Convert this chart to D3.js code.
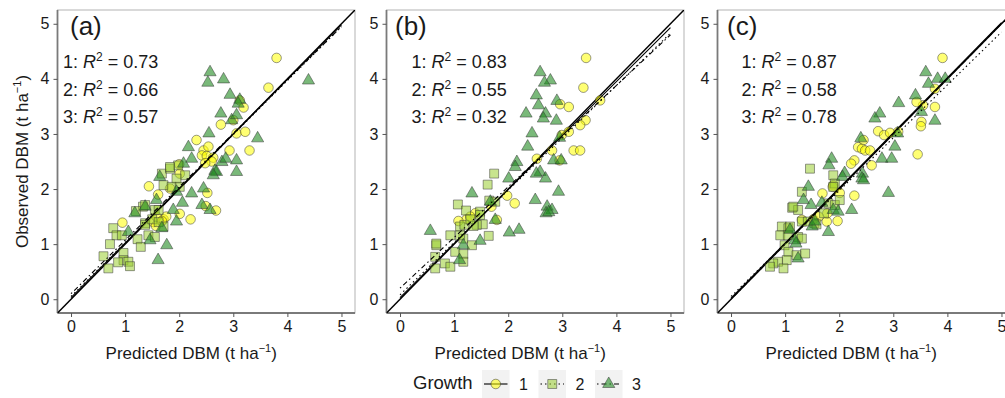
<!DOCTYPE html>
<html>
<head>
<meta charset="utf-8">
<script src="https://cdn.jsdelivr.net/npm/d3@7"></script>
<style>
  body { margin: 0; background: #fff; }
  text { font-family: "Liberation Sans", Arial, sans-serif; fill: #1a1a1a; }
</style>
</head>
<body>
<div id="chart"></div>
<script>
var svgWidth = 1005;
var svgHeight = 398;

// Data
// ==============================
var ticks = [0, 1, 2, 3, 4, 5];
var panelLabels = ["(a)", "(b)", "(c)"];
var growth = ["1", "2", "3"];
var r2 = [[0.73, 0.66, 0.57], [0.83, 0.55, 0.32], [0.87, 0.58, 0.78]];
// regression fits per panel and growth: [intercept, slope]
var fits = [
  [[0.03, 0.99], [0.05, 0.98], [0.10, 0.97]],
  [[0.03, 0.98], [0.08, 0.95], [0.20, 0.92]],
  [[0.02, 1.00], [0.05, 0.96], [0.00, 1.00]]
];

// [predicted, observed]
var a1 = [[3.80,4.38],[3.65,3.84],[3.12,3.61],[3.19,3.48],[3.00,3.25],[2.77,3.17],[3.06,3.01],[3.22,3.04],[2.93,2.70],[3.30,2.70],
  [2.32,2.89],[2.45,2.70],[2.54,2.77],[2.42,2.61],[2.51,2.60],[2.63,2.57],[2.60,2.50],[2.48,2.47],[2.01,2.28],[1.44,2.05],
  [1.61,1.90],[1.83,2.01],[2.52,1.93],[2.01,1.55],[2.21,1.45],[2.68,1.61],[2.49,1.69],[0.95,1.39],[1.52,1.40],[1.71,1.45],
  [1.58,1.50],[1.57,1.33],[1.76,1.50],[1.68,1.42],[2.00,2.45]];
var a2 = [[1.68,2.28],[1.83,2.37],[1.98,2.43],[2.11,2.25],[1.95,2.19],[1.71,2.07],[1.86,2.04],[2.01,2.04],[1.33,1.68],[1.37,1.71],
  [1.55,1.62],[1.62,1.62],[1.37,1.38],[1.37,1.35],[1.71,1.32],[0.78,1.29],[0.84,1.16],[0.94,1.16],[0.72,1.00],[1.23,1.09],
  [1.29,0.95],[1.43,1.16],[1.55,1.13],[0.60,0.78],[0.69,0.56],[0.97,0.84],[0.97,0.71],[0.87,0.67],[1.06,0.68],[1.09,0.60],
  [1.83,2.40],[1.50,1.45],[1.62,1.40],[1.20,1.60]];
var a3 = [[2.57,4.12],[2.53,3.93],[2.82,3.99],[4.39,3.97],[2.94,3.71],[2.77,3.37],[3.12,3.62],[3.09,3.55],[2.97,3.25],[3.06,3.34],
  [2.55,3.01],[3.45,2.92],[2.17,2.76],[2.23,2.55],[2.08,2.46],[2.79,2.49],[3.06,2.52],[2.86,2.55],[2.66,2.33],[3.06,2.31],
  [2.69,2.31],[2.63,2.25],[2.23,1.92],[2.45,2.01],[2.42,1.71],[2.57,1.62],[1.95,1.41],[1.89,1.62],[1.64,2.22],[1.18,1.56],
  [1.37,1.68],[1.58,1.80],[1.68,1.29],[1.46,1.07],[1.77,0.98],[1.61,0.71],[1.06,1.22],[2.06,1.75],[1.95,1.95]];

var b1 = [[3.44,4.38],[3.39,3.84],[3.70,3.61],[2.96,3.54],[3.12,3.49],[3.43,3.25],[3.33,3.16],[3.12,3.04],[2.99,2.98],[2.81,2.70],
  [3.21,2.70],[3.33,2.70],[2.53,2.55],[2.95,2.52],[1.98,1.88],[2.12,1.74],[1.39,1.56],[1.23,1.45],[1.08,1.42],[1.79,1.44],
  [1.69,1.68],[1.30,1.50]];
var b2 = [[1.74,2.28],[1.62,2.08],[1.07,1.72],[1.22,1.61],[1.48,1.59],[1.65,1.79],[1.76,1.77],[1.53,1.36],[1.42,1.35],[1.11,1.32],
  [1.19,1.35],[0.93,1.16],[1.17,1.10],[1.64,1.15],[1.33,0.98],[0.67,0.98],[0.65,0.77],[1.02,0.86],[1.17,0.82],[0.83,0.65],
  [0.93,0.59],[0.65,0.56],[1.17,0.68],[1.36,1.33],[1.48,1.53],[0.67,1.01],[1.11,1.16],[1.30,1.45]];
var b3 = [[2.59,4.12],[2.78,3.97],[2.67,3.93],[2.52,3.70],[2.90,3.60],[2.56,3.52],[2.33,3.37],[2.69,3.37],[2.65,3.28],[2.89,3.24],
  [2.44,3.01],[2.36,2.77],[2.95,2.93],[2.84,2.52],[2.98,2.52],[2.16,2.49],[2.13,2.40],[2.59,2.31],[2.52,2.28],[2.69,2.19],
  [2.01,2.19],[2.93,1.95],[1.33,1.92],[2.50,1.80],[2.72,1.68],[2.81,1.62],[2.70,1.56],[2.75,1.58],[2.02,1.21],[2.20,1.26],
  [1.67,1.77],[1.76,1.44],[0.56,1.24],[1.48,1.06],[1.17,0.98],[1.10,0.71]];

var c1 = [[3.91,4.38],[3.77,3.82],[3.55,3.52],[3.43,3.58],[3.77,3.49],[3.52,3.22],[3.51,3.14],[3.09,3.04],[2.72,3.05],[2.83,2.98],
  [2.94,3.02],[3.45,2.63],[2.45,2.89],[2.35,2.76],[2.42,2.73],[2.48,2.70],[2.57,2.70],[2.28,2.52],[2.22,2.46],[2.60,2.43],
  [1.69,1.92],[2.28,1.88],[2.01,1.93],[1.97,1.42],[1.77,1.41],[1.52,1.45],[1.78,1.56],[1.89,2.07],[1.31,1.44],[1.88,2.04],
  [1.62,1.50]];
var c2 = [[1.46,2.37],[1.89,2.25],[1.92,2.10],[1.89,2.04],[1.31,1.95],[1.13,1.66],[1.24,1.62],[1.80,1.74],[1.92,1.71],[2.01,1.80],
  [1.72,1.56],[1.31,1.41],[1.42,1.41],[1.54,1.38],[0.94,1.32],[1.06,1.29],[0.91,1.16],[1.05,1.16],[1.24,1.13],[1.31,1.10],
  [0.99,0.98],[1.06,0.86],[1.21,0.80],[1.37,0.83],[1.03,0.71],[0.87,0.68],[0.78,0.65],[0.72,0.59],[0.97,0.56],[1.58,1.36],
  [1.15,1.68],[1.09,1.32]];
var c3 = [[3.60,4.12],[3.65,3.91],[3.82,4.00],[3.96,4.00],[3.41,3.70],[3.10,3.56],[3.52,3.40],[3.77,3.24],[2.75,3.37],[2.66,3.28],
  [3.08,3.01],[3.03,2.77],[2.40,2.92],[2.79,2.55],[2.97,2.55],[1.86,2.55],[1.81,2.43],[2.91,1.93],[2.10,2.29],[2.06,2.22],
  [2.43,2.28],[2.42,2.19],[1.43,2.04],[1.34,1.80],[1.48,1.71],[1.68,1.75],[1.89,1.62],[1.98,1.59],[2.23,1.62],[1.80,1.22],
  [1.50,1.32],[1.09,1.26],[1.18,1.07],[1.24,0.74],[2.45,2.16],[1.55,1.41],[1.20,1.01]];

var panelData = [[a1, a2, a3], [b1, b2, b3], [c1, c2, c3]];

// Layout and styles
// ==============================
var panelLeft = [57.5, 386.5, 717.5];
var panelW = 297.5;
var panelTop = 10;
var panelH = 303;
var fills = ["#ffff00", "#9acd32", "#228b22"];
var fillOpacity = [0.55, 0.55, 0.6];
var shapes = [d3.symbolCircle, d3.symbolSquare, d3.symbolTriangle];
var shapeSize = [72, 80, 64];
var dashes = [null, "1.5,3", "1.5,3,5,3"];

var svg = d3.select("#chart")
  .append("svg")
  .attr("width", svgWidth)
  .attr("height", svgHeight);
svg.append("rect")
  .attr("width", "100%")
  .attr("height", "100%")
  .attr("fill", "white");

var yScale = d3.scaleLinear()
  .domain([-0.25, 5.25])
  .range([panelTop + panelH, panelTop]);

function supText(sel, before, sup, after, supSize) {
  sel.append("tspan").text(before);
  sel.append("tspan").attr("dy", -7).attr("font-size", supSize).text(sup);
  sel.append("tspan").attr("dy", 7).text(after);
}

panelData.forEach(function(groups, p) {
  var left = panelLeft[p];
  var xScale = d3.scaleLinear()
    .domain([-0.25, 5.25])
    .range([left, left + panelW]);

  var g = svg.append("g");

  svg.append("clipPath").attr("id", "clip" + p)
    .append("rect")
    .attr("x", left).attr("y", panelTop)
    .attr("width", panelW).attr("height", panelH);

  // panel border
  g.append("rect")
    .attr("x", left).attr("y", panelTop)
    .attr("width", panelW).attr("height", panelH)
    .attr("fill", "none")
    .attr("stroke", "#b3b3b3")
    .attr("stroke-width", 1);

  // axes
  var bottomAxis = d3.axisBottom(xScale).tickValues(ticks).tickFormat(d3.format("d")).tickSize(4).tickPadding(4);
  var leftAxis = d3.axisLeft(yScale).tickValues(ticks).tickFormat(d3.format("d")).tickSize(4).tickPadding(4);

  var xa = g.append("g")
    .attr("transform", `translate(0, ${panelTop + panelH})`)
    .call(bottomAxis);
  var ya = g.append("g")
    .attr("transform", `translate(${left}, 0)`)
    .call(leftAxis);
  [xa, ya].forEach(function(ax) {
    ax.select(".domain").attr("stroke", "#7a7a7a").attr("stroke-width", 1.8);
    ax.selectAll(".tick line").attr("stroke", "#555").attr("stroke-width", 1);
    ax.selectAll(".tick text").attr("font-size", 16).attr("fill", "#1a1a1a")
      .attr("font-family", "Liberation Sans, Arial, sans-serif");
  });
  xa.select(".domain").attr("d", `M${left},0H${left + panelW}`);
  ya.select(".domain").attr("d", `M0,${panelTop}V${panelTop + panelH}`);

  var plot = g.append("g").attr("clip-path", `url(#clip${p})`);

  // 1:1 line
  plot.append("line")
    .attr("x1", xScale(-0.25)).attr("y1", yScale(-0.25))
    .attr("x2", xScale(5.25)).attr("y2", yScale(5.25))
    .attr("stroke", "black")
    .attr("stroke-width", 1.5);

  // points
  groups.forEach(function(pts, k) {
    plot.selectAll(null)
      .data(pts)
      .enter()
      .append("path")
      .attr("d", d3.symbol().type(shapes[k]).size(shapeSize[k]))
      .attr("transform", d => `translate(${xScale(d[0])}, ${yScale(d[1])})`)
      .attr("fill", fills[k])
      .attr("fill-opacity", fillOpacity[k])
      .attr("stroke", "#333")
      .attr("stroke-opacity", 0.55)
      .attr("stroke-width", 0.9);
  });

  // regression lines
  fits[p].forEach(function(f, k) {
    plot.append("line")
      .attr("x1", xScale(0)).attr("y1", yScale(f[0]))
      .attr("x2", xScale(5)).attr("y2", yScale(f[0] + 5 * f[1]))
      .attr("stroke", "black")
      .attr("stroke-width", 1.1)
      .attr("stroke-dasharray", dashes[k]);
  });

  // panel label and R2 text
  g.append("text")
    .attr("x", left + [12.5, 8.5, 9.5][p])
    .attr("y", panelTop + 25)
    .attr("font-size", 26)
    .text(panelLabels[p]);

  r2[p].forEach(function(v, k) {
    var t = g.append("text")
      .attr("x", left + [5.5, 25, 24][p])
      .attr("y", panelTop + 58 + k * 27.5)
      .attr("font-size", 18);
    t.append("tspan").text(growth[k] + ": ");
    t.append("tspan").attr("font-style", "italic").text("R");
    t.append("tspan").attr("dy", -7).attr("font-size", 12).text("2");
    t.append("tspan").attr("dy", 7).text(" = " + v.toFixed(2));
  });

  // x axis title
  var xt = g.append("text")
    .attr("x", left + panelW / 2 - 15)
    .attr("y", 359)
    .attr("text-anchor", "middle")
    .attr("font-size", 17);
  supText(xt, "Predicted DBM (t ha", "\u22121", ")", 11);
});

// y axis title
var yt = svg.append("text")
  .attr("transform", `translate(28, ${panelTop + panelH / 2}) rotate(-90)`)
  .attr("text-anchor", "middle")
  .attr("font-size", 17);
supText(yt, "Observed DBM (t ha", "\u22121", ")", 11);

// Legend
// ==============================
var legend = svg.append("g");
legend.append("text")
  .attr("x", 413).attr("y", 389)
  .attr("font-size", 18.5)
  .text("Growth");

var keyX = [482, 538.5, 595];
growth.forEach(function(name, k) {
  var kx = keyX[k];
  legend.append("rect")
    .attr("x", kx).attr("y", 370)
    .attr("width", 27.5).attr("height", 28)
    .attr("fill", "#f2f2f2");
  legend.append("line")
    .attr("x1", kx + 2).attr("x2", kx + 25.5)
    .attr("y1", 384).attr("y2", 384)
    .attr("stroke", "black")
    .attr("stroke-width", 1.1)
    .attr("stroke-dasharray", dashes[k]);
  legend.append("path")
    .attr("d", d3.symbol().type(shapes[k]).size(shapeSize[k])())
    .attr("transform", `translate(${kx + 13.75}, 384)`)
    .attr("fill", fills[k])
    .attr("fill-opacity", fillOpacity[k])
    .attr("stroke", "#333")
    .attr("stroke-opacity", 0.55)
    .attr("stroke-width", 0.9);
  legend.append("text")
    .attr("x", kx + 37).attr("y", 389.5)
    .attr("font-size", 16)
    .text(name);
});
</script>
</body>
</html>
